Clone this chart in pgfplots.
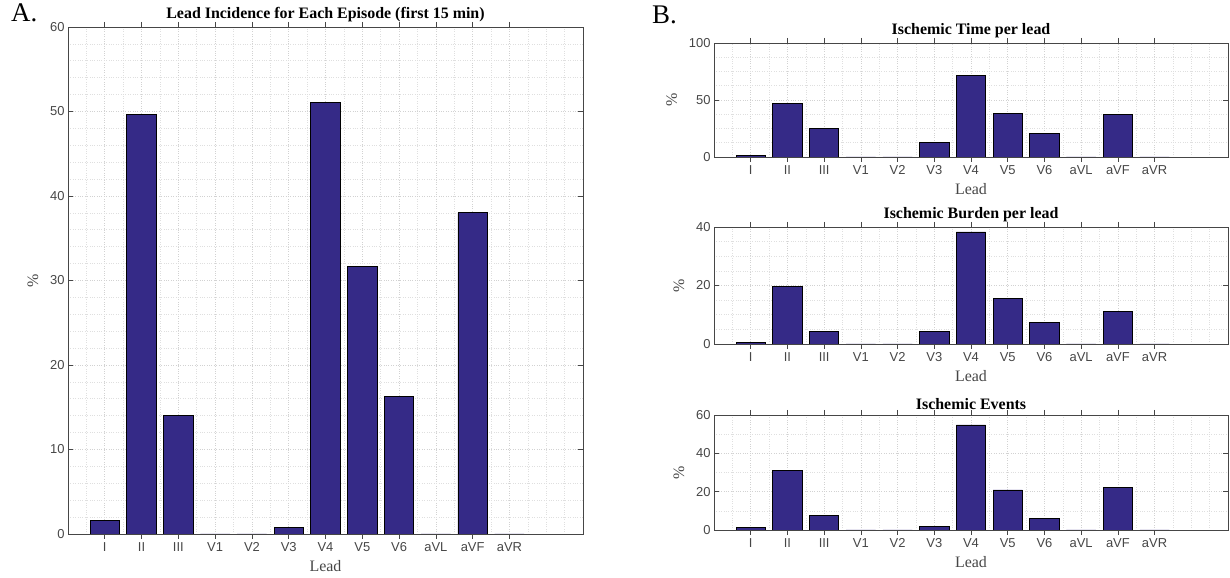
\documentclass[border=0pt]{standalone}
\usepackage{pgfplots}
\pgfplotsset{compat=1.18}
\usepackage{fontspec}
\setmainfont{Liberation Serif}
\setsansfont{Liberation Sans}
\definecolor{barblue}{RGB}{53,42,135}
\definecolor{tickgray}{RGB}{70,70,70}
\pgfplotsset{
  leadaxis/.style={
    scale only axis,
    anchor=south west,
    xmin=0, xmax=14,
    ymin=0,
    xtick={1,...,12},
    xticklabels={I,II,III,V1,V2,V3,V4,V5,V6,aVL,aVF,aVR},
    minor xtick={0.5,1,...,13.5},
    grid=both,
    major grid style={gray!35, dotted, line width=0.6bp},
    minor grid style={gray!25, dotted, line width=0.6bp},
    major tick length=5bp,
    minor tick length=0pt,
    tick style={tickgray, line width=0.6bp},
    axis line style={tickgray, line width=0.8bp},
    ticklabel style={font=\sffamily\fontsize{13}{13}\selectfont, text=tickgray},
    /pgf/number format/assume math mode=true,
    xlabel={Lead},
    ylabel={\%},
    xlabel shift=2bp,
    ylabel shift=5bp,
    label style={font=\fontsize{16}{16}\selectfont, text=tickgray},
    title style={font=\bfseries\fontsize{16}{16}\selectfont, yshift=-4bp},
    ybar, bar width=0.8,
  },
  leadbar/.style={fill=barblue, draw=black, line width=0.8bp},
}
\begin{document}
\begin{tikzpicture}[x=1bp,y=1bp]
\useasboundingbox (0,0) rectangle (1230,578);
\node[anchor=north west, font=\fontsize{27}{27}\selectfont, inner sep=0pt] at (11,574) {A.};
\node[anchor=north west, font=\fontsize{27}{27}\selectfont, inner sep=0pt] at (652,572) {B.};
% Panel A
\begin{axis}[leadaxis, at={(68bp,44bp)}, width=515bp, height=507bp,
  ymax=60, ytick={0,10,...,60}, minor y tick num=4,
  title={Lead Incidence for Each Episode (first 15 min)}]
\addplot[leadbar] coordinates {(1,1.6) (2,49.7) (3,14.0) (4,0) (5,0) (6,0.8) (7,51.1) (8,31.7) (9,16.3) (10,0) (11,38.0) (12,0)};
\end{axis}
% Panel B top
\begin{axis}[leadaxis, at={(714bp,421bp)}, width=514bp, height=114bp,
  ymax=100, ytick={0,50,100}, minor y tick num=3,
  title={Ischemic Time per lead}]
\addplot[leadbar] coordinates {(1,1.2) (2,46.7) (3,24.8) (4,0) (5,0) (6,12.4) (7,71.2) (8,38.3) (9,20.5) (10,0) (11,37.5) (12,0)};
\end{axis}
% Panel B middle
\begin{axis}[leadaxis, at={(714bp,234bp)}, width=514bp, height=117bp,
  ymax=40, ytick={0,20,40}, minor y tick num=3,
  title={Ischemic Burden per lead}]
\addplot[leadbar] coordinates {(1,0.5) (2,19.8) (3,4.3) (4,0) (5,0) (6,4.3) (7,38.3) (8,15.5) (9,7.3) (10,0) (11,11.2) (12,0)};
\end{axis}
% Panel B bottom
\begin{axis}[leadaxis, at={(714bp,48bp)}, width=514bp, height=115bp,
  ymax=60, ytick={0,20,40,60}, minor y tick num=1,
  title={Ischemic Events}]
\addplot[leadbar] coordinates {(1,1.4) (2,31.0) (3,7.8) (4,0) (5,0) (6,1.9) (7,54.8) (8,20.9) (9,6.2) (10,0) (11,22.2) (12,0)};
\end{axis}
\end{tikzpicture}
\end{document}
